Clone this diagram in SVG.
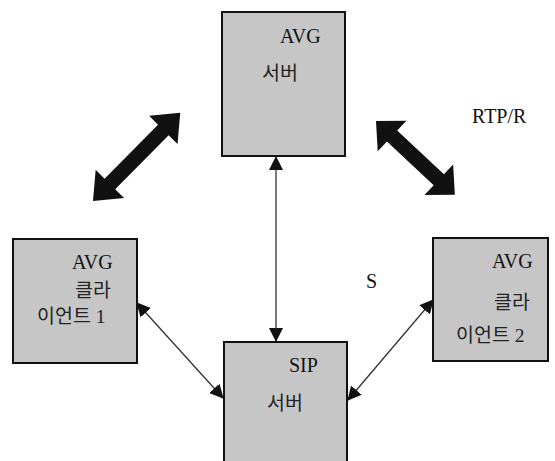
<svg xmlns="http://www.w3.org/2000/svg" width="555" height="461" viewBox="0 0 555 461">
<style>
.box{fill:#c6c6c6;stroke:#111;stroke-width:2}
.t{font-family:"Liberation Serif","Noto Sans CJK KR",serif;font-size:20px;fill:#111}
.k{font-family:"Liberation Serif","Noto Sans CJK KR",serif;font-size:19.5px;fill:#222}
.thin{stroke:#333;stroke-width:1.3;fill:none;marker-start:url(#ah);marker-end:url(#ah)}
.thick{fill:#111}
</style>
<defs>
<marker id="ah" viewBox="0 0 14 14" refX="13" refY="7" markerWidth="14" markerHeight="14" markerUnits="userSpaceOnUse" orient="auto-start-reverse">
<path d="M0,0 L14,7 L0,14 Z" fill="#111"/>
</marker>
</defs>
<rect width="555" height="461" fill="#fff"/>
<g id="avg-server">
<rect class="box" x="222" y="12" width="123" height="144"/>
<text class="t" x="280" y="43">AVG</text>
<text class="k" x="262" y="80">서버</text>
</g>
<g id="avg-client-1">
<rect class="box" x="13" y="239" width="124" height="124"/>
<text class="t" x="72" y="269">AVG</text>
<text class="k" x="75" y="297">클라</text>
<text class="k" x="37" y="323">이언트 1</text>
</g>
<g id="avg-client-2">
<rect class="box" x="433" y="238" width="115" height="123"/>
<text class="t" x="492" y="268">AVG</text>
<text class="k" x="494" y="309">클라</text>
<text class="k" x="456" y="342">이언트 2</text>
</g>
<g id="sip-server">
<rect class="box" x="224" y="342" width="123" height="125"/>
<text class="t" x="289" y="372">SIP</text>
<text class="k" x="267" y="410">서버</text>
</g>
<g id="labels">
<text class="t" x="472" y="123">RTP/R</text>
<text class="t" x="366" y="288">S</text>
</g>
<g id="connectors">
<line class="thin" x1="276" y1="157" x2="276" y2="341"/>
<line class="thin" x1="137" y1="303" x2="223" y2="398"/>
<line class="thin" x1="433" y1="300" x2="348" y2="400"/>
<polygon class="thick" transform="translate(93,201) rotate(-45.3)" points="0,0 24,-20 24,-7.5 100,-7.5 100,-20 124,0 100,20 100,7.5 24,7.5 24,20"/>
<polygon class="thick" transform="translate(376,121) rotate(43.1)" points="0,0 22,-21 22,-7.5 86,-7.5 86,-21 108,0 86,21 86,7.5 22,7.5 22,21"/>
</g>
</svg>
